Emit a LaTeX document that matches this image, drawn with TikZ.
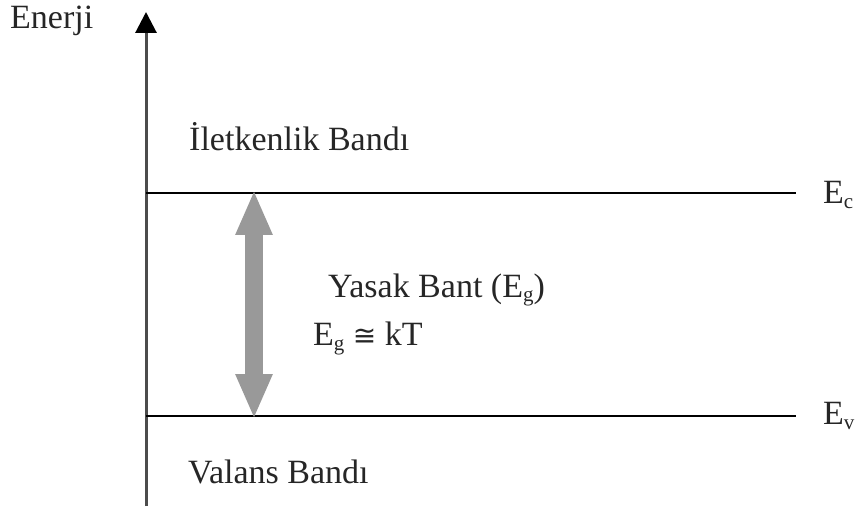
\documentclass[tikz,border=0pt]{standalone}
\usepackage{fontspec}
\setmainfont{Liberation Serif}
\newfontfamily\symfont{DejaVu Sans}
\usetikzlibrary{arrows.meta}
\newcommand{\subtxt}[1]{\raisebox{-5pt}{\fontsize{21}{21}\selectfont #1}}
\begin{document}
\begin{tikzpicture}[x=1pt,y=-1pt,
  lbl/.style={inner sep=0pt,anchor=base west,font=\fontsize{34}{40}\selectfont,text=black!85},
  level/.style={line width=1.5pt,black},
  axisline/.style={line width=3pt,black!70,-{Triangle[length=21pt,width=21pt,color=black]}},
  gaparrow/.style={line width=18pt,color=black!40,
    {Triangle[length=45pt,width=34pt]}-{Triangle[length=45pt,width=34pt]}}]
\useasboundingbox (0,0) rectangle (858,510);
% coordinates
\coordinate (axb) at (146,506);
\coordinate (axt) at (146,12);
\coordinate (cl) at (146,193);
\coordinate (cr) at (796,193);
\coordinate (vl) at (146,416);
\coordinate (vr) at (796,416);
\coordinate (gt) at (254,190);
\coordinate (gb) at (254,419);
% lines
\draw[axisline] (axb) -- (axt);
\draw[level] (cl) -- (cr);
\draw[level] (vl) -- (vr);
\draw[gaparrow] (gb) -- (gt);
% labels
\node[lbl] (en) at (10,29) {Enerji};
\node[lbl] (il) at (189,151) {İletkenlik Bandı};
\node[lbl] (va) at (188,483) {Valans Bandı};
\node[lbl] (ya) at (328,297) {Yasak Bant (E\subtxt{g})};
\node[lbl] (eg) at (313,345) {E\subtxt{g} {\symfont\fontsize{28}{34}\selectfont ≅} kT};
\node[lbl] (ec) at (823,204) {E\subtxt{c}};
\node[lbl] (ev) at (823,424) {E\subtxt{v}};
\end{tikzpicture}
\end{document}
